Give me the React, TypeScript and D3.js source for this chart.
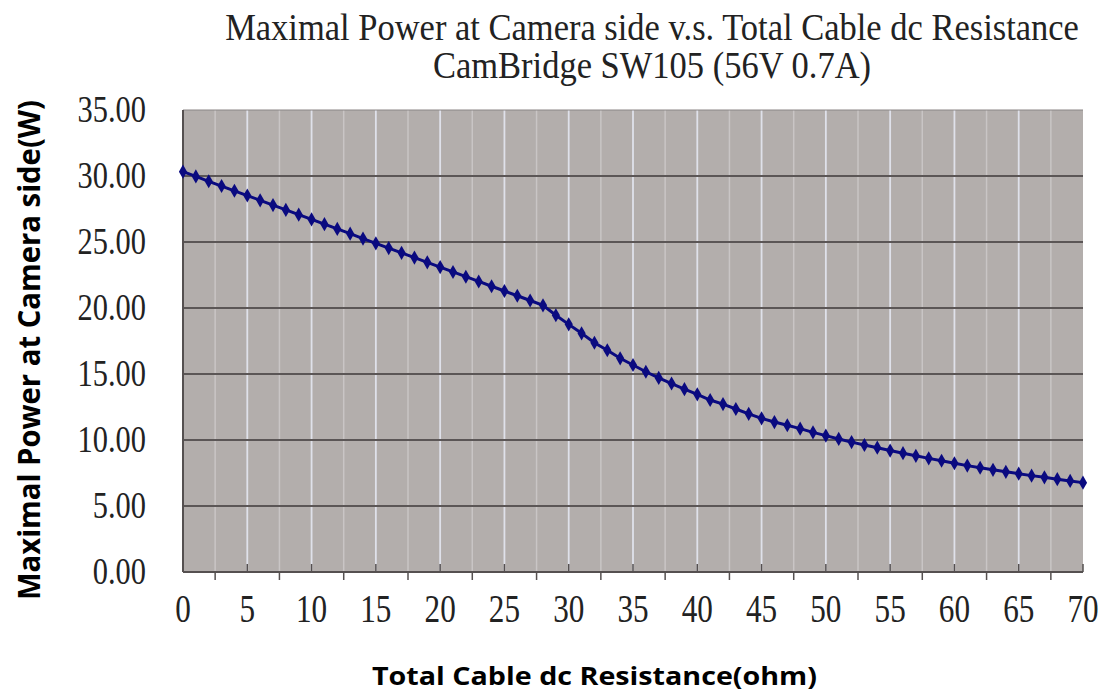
import React, { useEffect, useRef } from "react";
import * as d3 from "d3";

// total cable dc resistance (ohm), one point per ohm
const resistance = d3.range(0, 71);
// maximal power at camera side (W)
const power = [
  30.33, 29.97, 29.6, 29.24, 28.88, 28.52, 28.16, 27.8, 27.43, 27.07,
  26.71, 26.35, 25.99, 25.63, 25.26, 24.9, 24.54, 24.18, 23.82, 23.46,
  23.1, 22.73, 22.37, 22.01, 21.65, 21.29, 20.93, 20.57, 20.2, 19.45,
  18.76, 18.08, 17.37, 16.8, 16.19, 15.68, 15.17, 14.7, 14.28, 13.85,
  13.46, 13.03, 12.72, 12.35, 11.98, 11.64, 11.36, 11.12, 10.86, 10.58,
  10.33, 10.08, 9.84, 9.62, 9.42, 9.2, 9.0, 8.8, 8.61, 8.43,
  8.24, 8.06, 7.9, 7.74, 7.59, 7.45, 7.3, 7.17, 7.03, 6.9,
  6.77,
];
const xTicks = [0, 5, 10, 15, 20, 25, 30, 35, 40, 45, 50, 55, 60, 65, 70];
const xMinor = [2.5, 7.5, 12.5, 17.5, 22.5, 27.5, 32.5, 37.5, 42.5, 47.5, 52.5, 57.5, 62.5, 67.5];
const yTicks = [0, 5, 10, 15, 20, 25, 30, 35];

const titleLines = [
  "Maximal Power at Camera side v.s. Total Cable dc Resistance",
  "CamBridge SW105 (56V 0.7A)",
];
const xTitle = "Total Cable dc Resistance(ohm)";
const yTitle = "Maximal Power at Camera side(W)";

export default function App() {
  const ref = useRef<SVGSVGElement>(null);

  useEffect(() => {
    const W = 1104, H = 693;
    const m = { left: 183, right: 1083, top: 110, bottom: 572 };
    const serif = "'Liberation Serif', 'Times New Roman', serif";
    const sans = "'Open Sans', 'Noto Sans', sans-serif";

    const svg = d3.select(ref.current);
    svg.selectAll("*").remove();
    svg.attr("width", W).attr("height", H);
    svg.append("rect").attr("width", W).attr("height", H).attr("fill", "#ffffff");

    const x = d3.scaleLinear().domain([0, 70]).range([m.left, m.right]);
    const y = d3.scaleLinear().domain([0, 35]).range([m.bottom, m.top]);

    // plot background
    svg.append("rect")
      .attr("x", m.left).attr("y", m.top)
      .attr("width", m.right - m.left).attr("height", m.bottom - m.top)
      .attr("fill", "#b3aeac");

    // vertical grid
    svg.selectAll(".vminor").data(xMinor).enter().append("line")
      .attr("x1", d => x(d)).attr("x2", d => x(d))
      .attr("y1", m.top).attr("y2", m.bottom)
      .attr("stroke", "#c9c5c5").attr("stroke-width", 1.5);
    svg.selectAll(".vmajor").data(xTicks.slice(1, -1)).enter().append("line")
      .attr("x1", d => x(d)).attr("x2", d => x(d))
      .attr("y1", m.top).attr("y2", m.bottom)
      .attr("stroke", "#dfe1ea").attr("stroke-width", 1.8);

    // horizontal grid
    svg.selectAll(".hgrid").data(yTicks.slice(1)).enter().append("line")
      .attr("x1", m.left).attr("x2", m.right)
      .attr("y1", d => y(d)).attr("y2", d => y(d))
      .attr("stroke", d => (d === 35 ? "#8a8585" : "#5b5656"))
      .attr("stroke-width", d => (d === 35 ? 1 : 2));

    // axes lines
    svg.append("line")
      .attr("x1", m.left).attr("x2", m.left).attr("y1", m.top).attr("y2", m.bottom)
      .attr("stroke", "#555050").attr("stroke-width", 2);
    svg.append("line")
      .attr("x1", m.left).attr("x2", m.right).attr("y1", m.bottom).attr("y2", m.bottom)
      .attr("stroke", "#555050").attr("stroke-width", 2);

    // x ticks: major inward, minor outward
    svg.selectAll(".xt").data(xTicks.slice(1)).enter().append("line")
      .attr("x1", d => x(d)).attr("x2", d => x(d))
      .attr("y1", m.bottom - 8).attr("y2", m.bottom)
      .attr("stroke", "#555050").attr("stroke-width", 1.5);
    svg.selectAll(".xm").data(xMinor).enter().append("line")
      .attr("x1", d => x(d)).attr("x2", d => x(d))
      .attr("y1", m.bottom).attr("y2", m.bottom + 8)
      .attr("stroke", "#555050").attr("stroke-width", 1.5);

    // y tick labels
    svg.selectAll(".yl").data(yTicks).enter().append("text")
      .attr("transform", d => `translate(146,${y(d) + 12}) scale(0.8,1)`)
      .attr("text-anchor", "end")
      .style("font-family", serif).style("font-size", "38px").style("fill", "#222")
      .text(d => d.toFixed(2));

    // x tick labels
    svg.selectAll(".xl").data(xTicks).enter().append("text")
      .attr("transform", d => `translate(${x(d)},622) scale(0.8,1)`)
      .attr("text-anchor", "middle")
      .style("font-family", serif).style("font-size", "39px").style("fill", "#222")
      .text(d => d);

    // line + diamond markers
    const pts = resistance.map((r, i) => [r, power[i]] as [number, number]);
    const line = d3.line<[number, number]>().x(d => x(d[0])).y(d => y(d[1]));
    svg.append("path").datum(pts)
      .attr("d", line).attr("fill", "none")
      .attr("stroke", "#0a0a80").attr("stroke-width", 3);
    const diamond = d3.symbol().type(d3.symbolDiamond).size(58);
    svg.selectAll(".pt").data(pts).enter().append("path")
      .attr("d", diamond)
      .attr("transform", d => `translate(${x(d[0])},${y(d[1])})`)
      .attr("fill", "#0a0a80");

    // titles
    svg.selectAll(".title").data(titleLines).enter().append("text")
      .attr("transform", (d, i) => `translate(652,${i === 0 ? 40 : 78}) scale(1,1.08)`)
      .attr("text-anchor", "middle")
      .style("font-family", serif).style("font-size", "34.5px").style("fill", "#222")
      .text(d => d);

    svg.append("text")
      .attr("x", 372).attr("y", 685)
      .attr("textLength", 445).attr("lengthAdjust", "spacingAndGlyphs")
      .style("font-family", sans).style("font-weight", "bold").style("font-size", "25px")
      .style("fill", "#000")
      .text(xTitle);

    svg.append("text")
      .attr("transform", "translate(40,600) rotate(-90)")
      .attr("textLength", 500).attr("lengthAdjust", "spacingAndGlyphs")
      .style("font-family", sans).style("font-weight", "bold").style("font-size", "30px")
      .style("fill", "#000")
      .text(yTitle);
  }, []);

  return <svg ref={ref} style={{ position: "absolute", left: 0, top: 0 }} />;
}
